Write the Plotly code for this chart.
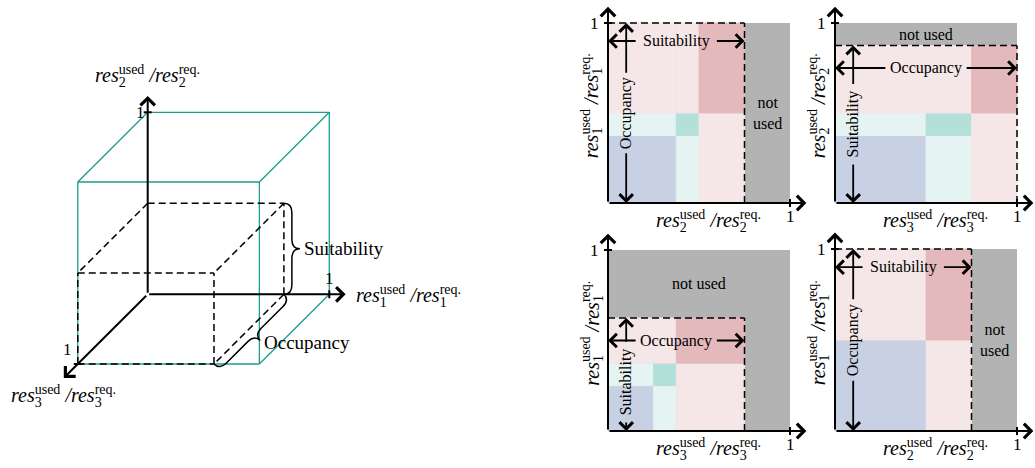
import numpy as np
import plotly.graph_objects as go

W, H = 1035, 468
FONT = "Liberation Serif"

# ---------------- data ----------------
# 3-D sketch: share of each resource used by the request (dashed box)
CUBE_USED = [0.75, 0.5, 1.0]          # res1, res2, res3
AXIS_ONE = 1.0                         # tick value on every axis

# 2-D projections: block edges along x and y, cell categories
P1_X_EDGES = [0, 0.375, 0.5, 0.75]
P1_Y_EDGES = [0, 0.375, 0.5, 1.0]
P2_X_EDGES = [0, 0.5, 0.75, 1.0]
P2_Y_EDGES = [0, 0.375, 0.5, 0.875]
P3_X_EDGES = [0, 0.25, 0.375, 0.75]
P3_Y_EDGES = [0, 0.25, 0.375, 0.625]
P4_X_EDGES = [0, 0.5, 0.75]
P4_Y_EDGES = [0, 0.5, 1.0]

CELLS_3 = [["B", "LT", "LP"],
           ["LT", "T", "LP"],
           ["LP", "LP", "R"]]
CELLS_2 = [["B", "LP"],
           ["LP", "R"]]

P_X_RES = [2, 3, 3, 2]
P_Y_RES = [1, 2, 1, 1]
H_LABELS = ["Suitability", "Occupancy", "Occupancy", "Suitability"]
V_LABELS = ["Occupancy", "Suitability", "Suitability", "Occupancy"]
NOT_USED = "not used"

# ---------------- styles / layout ----------------
COLORS = {"B": "#c8d0e3", "T": "#b3e1da", "LT": "#e5f4f2",
          "R": "#e3b9bc", "LP": "#f5e6e7", "GRAY": "#b3b3b3"}
CUBE_COLOR = "#1a9e8c"

PANELS = [
    dict(x=P1_X_EDGES, y=P1_Y_EDGES, cells=CELLS_3, ox=608, oy=203, sx=182, sy=180,
         xpx=(556, 822), ypx=(0, 234), h_y=0.9, v_x=0.1, v_c=None, nu_lines=True, nu_top=False),
    dict(x=P2_X_EDGES, y=P2_Y_EDGES, cells=CELLS_3, ox=835, oy=203, sx=182, sy=180,
         xpx=(806, 1035), ypx=(0, 234), h_y=0.75, v_x=0.1, v_c=None, nu_lines=False, nu_top=True),
    dict(x=P3_X_EDGES, y=P3_Y_EDGES, cells=CELLS_3, ox=608, oy=431, sx=182, sy=181,
         xpx=(556, 822), ypx=(234, 468), h_y=0.5, v_x=0.1, v_c=0.27, nu_lines=False, nu_top=True),
    dict(x=P4_X_EDGES, y=P4_Y_EDGES, cells=CELLS_2, ox=835, oy=431, sx=182, sy=182,
         xpx=(806, 1035), ypx=(234, 468), h_y=0.9, v_x=0.1, v_c=None, nu_lines=True, nu_top=False),
]
TIP = 1.09
GAP = 0.215
LAB_SIZE = 20

# 3-D oblique projection
O3 = (147.7, 294.3)
S3 = (181.6, 182.0)
K3 = (-0.385, -0.383)


def proj(v):
    return (v[0] + K3[0] * v[2], v[1] + K3[1] * v[2])


def res_label(i):
    # subscript stacked under superscript: negative letter spacing on the subscript
    sub = f"<sub><span style='letter-spacing:-0.5em'>{i}</span></sub>"
    return f"<i>res</i>{sub}<sup>used</sup><i> /res</i>{sub}<sup>req.</sup>"


def x_axis_spec(o, s, lo, hi):
    return dict(range=[(lo - o) / s, (hi - o) / s], domain=[lo / W, hi / W])


def y_axis_spec(o, s, top, bot):
    return dict(range=[(o - bot) / s, (o - top) / s], domain=[1 - bot / H, 1 - top / H])


fig = go.Figure()
layout_axes = {}
shapes = []
annotations = []


def arrow(xr, yr, p0, p1, width=1.8, size=1.45):
    return dict(x=p1[0], y=p1[1], ax=p0[0], ay=p0[1], xref=xr, yref=yr,
                axref=xr, ayref=yr, text="", showarrow=True, arrowhead=4,
                arrowsize=size, arrowwidth=width, arrowcolor="black",
                arrowside="end")


def line(xr, yr, p0, p1, color="black", width=1.5, dash="solid"):
    return dict(type="line", xref=xr, yref=yr, x0=p0[0], y0=p0[1], x1=p1[0], y1=p1[1],
                line=dict(color=color, width=width, dash=dash))


def text(xr, yr, x, y, t, size=16, **kw):
    d = dict(x=x, y=y, xref=xr, yref=yr, text=t, showarrow=False,
             font=dict(family=FONT, size=size, color="black"))
    d.update(kw)
    return d


# ---------------- 3-D sketch (axis x / y) ----------------
xs = x_axis_spec(O3[0], S3[0], 0, 520)
ys = y_axis_spec(O3[1], S3[1], 0, H)
layout_axes["xaxis"] = dict(xs, visible=False, fixedrange=True)
layout_axes["yaxis"] = dict(ys, visible=False, fixedrange=True, anchor="x")
fig.add_trace(go.Scatter(x=[None], y=[None], xaxis="x", yaxis="y", showlegend=False,
                         hoverinfo="skip"))


def box_edges(dims):
    corners = [(i, j, k) for i in (0, 1) for j in (0, 1) for k in (0, 1)]
    edges = []
    for a in corners:
        for b in corners:
            if a < b and sum(abs(np.subtract(a, b))) == 1 and a != (0, 0, 0):
                edges.append((tuple(np.multiply(a, dims)), tuple(np.multiply(b, dims))))
    return edges


for a, b in box_edges([AXIS_ONE] * 3):
    shapes.append(line("x", "y", proj(a), proj(b), color=CUBE_COLOR, width=1.3))
for a, b in box_edges(CUBE_USED):
    shapes.append(line("x", "y", proj(a), proj(b), width=1.5, dash="7px,4px"))

# axes of the 3-D sketch
ax_tips = [(TIP, 0, 0), (0, TIP, 0), (0, 0, 1.2)]
for tip in ax_tips:
    annotations.append(arrow("x", "y", proj((0, 0, 0)), proj(tip), width=2, size=1.4))
t = 0.022
shapes.append(line("x", "y", (AXIS_ONE, -t), (AXIS_ONE, t), width=2))
shapes.append(line("x", "y", (-t, AXIS_ONE), (t, AXIS_ONE), width=2))
pz = proj((0, 0, AXIS_ONE))
shapes.append(line("x", "y", (pz[0] - t, pz[1]), (pz[0] + t, pz[1]), width=2))

annotations.append(text("x", "y", AXIS_ONE, 0, "1", 17, yanchor="bottom", yshift=4))
annotations.append(text("x", "y", 0, AXIS_ONE, "1", 17, xanchor="right", xshift=-1))
annotations.append(text("x", "y", pz[0], pz[1], "1", 17, xanchor="right", yanchor="bottom",
                        xshift=-4, yshift=3))
p = proj(ax_tips[0])
annotations.append(text("x", "y", p[0], p[1], res_label(1), LAB_SIZE, xanchor="left", xshift=8))
p = proj(ax_tips[1])
annotations.append(text("x", "y", p[0], p[1], res_label(2), LAB_SIZE, yanchor="bottom", yshift=7))
p = proj(ax_tips[2])
annotations.append(text("x", "y", p[0], p[1], res_label(3), LAB_SIZE, yanchor="top", yshift=-2))


def brace(p0, p1, w):
    p0 = np.array(p0, float)
    p1 = np.array(p1, float)
    d = p1 - p0
    L = np.hypot(*d)
    tv = d / L
    n = np.array([-tv[1], tv[0]])
    r = w * 0.6

    def pt(s, h):
        q = p0 + s * tv + h * n
        return f"{q[0]:.5f},{q[1]:.5f}"
    path = (f"M{pt(0, 0)} Q{pt(0, w / 2)} {pt(r, w / 2)} L{pt(L / 2 - r, w / 2)} "
            f"Q{pt(L / 2, w / 2)} {pt(L / 2, w)} Q{pt(L / 2, w / 2)} {pt(L / 2 + r, w / 2)} "
            f"L{pt(L - r, w / 2)} Q{pt(L, w / 2)} {pt(L, 0)}")
    tipq = p0 + (L / 2) * tv + w * n
    return path, tipq


a1, a2, a3 = CUBE_USED
bw = 0.088
path, tip_s = brace(proj((a1, a2, 0)), proj((a1, 0, 0)), bw)
shapes.append(dict(type="path", xref="x", yref="y", path=path, line=dict(color="black", width=1.5)))
path, tip_o = brace(proj((a1, 0, 0)), proj((a1, 0, a3)), bw)
shapes.append(dict(type="path", xref="x", yref="y", path=path, line=dict(color="black", width=1.5)))
annotations.append(text("x", "y", tip_s[0], tip_s[1], "Suitability", 19, xanchor="left", xshift=2))
annotations.append(text("x", "y", tip_o[0], tip_o[1], "Occupancy", 19, xanchor="left", xshift=2,
                        yshift=-2))

# ---------------- 2-D panels ----------------
for i, pn in enumerate(PANELS):
    k = i + 2
    xr, yr = f"x{k}", f"y{k}"
    layout_axes[f"xaxis{k}"] = dict(x_axis_spec(pn["ox"], pn["sx"], *pn["xpx"]),
                                    visible=False, fixedrange=True, anchor=yr)
    layout_axes[f"yaxis{k}"] = dict(y_axis_spec(pn["oy"], pn["sy"], *pn["ypx"]),
                                    visible=False, fixedrange=True, anchor=xr)
    fig.add_trace(go.Scatter(x=[None], y=[None], xaxis=xr, yaxis=yr, showlegend=False,
                             hoverinfo="skip"))
    xe, ye = pn["x"], pn["y"]
    xm, ym = xe[-1], ye[-1]
    # not-used background
    shapes.append(dict(type="rect", xref=xr, yref=yr, x0=0, x1=AXIS_ONE, y0=0, y1=AXIS_ONE,
                       fillcolor=COLORS["GRAY"], line=dict(width=0), layer="below"))
    for r, row in enumerate(pn["cells"]):
        for c, cat in enumerate(row):
            shapes.append(dict(type="rect", xref=xr, yref=yr, x0=xe[c], x1=xe[c + 1],
                               y0=ye[r], y1=ye[r + 1], fillcolor=COLORS[cat],
                               line=dict(width=0.8, color=COLORS[cat]), layer="below"))
    # dashed boundary of the used part
    shapes.append(line(xr, yr, (0, ym), (xm, ym), width=1.5, dash="7px,4px"))
    shapes.append(line(xr, yr, (xm, 0), (xm, ym), width=1.5, dash="7px,4px"))
    # axes
    annotations.append(arrow(xr, yr, (0, 0), (TIP, 0), width=2, size=1.4))
    annotations.append(arrow(xr, yr, (0, 0), (0, TIP), width=2, size=1.4))
    shapes.append(line(xr, yr, (AXIS_ONE, -t), (AXIS_ONE, t), width=2))
    shapes.append(line(xr, yr, (-t, AXIS_ONE), (t, AXIS_ONE), width=2))
    annotations.append(text(xr, yr, AXIS_ONE, 0, "1", 17, yanchor="top", yshift=-2))
    annotations.append(text(xr, yr, 0, AXIS_ONE, "1", 17, xanchor="right", xshift=-7))
    annotations.append(text(xr, yr, 0.55, 0, res_label(P_X_RES[i]), LAB_SIZE,
                            yanchor="top", yshift=-2))
    annotations.append(text(xr, yr, 0, 0.54, res_label(P_Y_RES[i]), LAB_SIZE, textangle=-90,
                            xanchor="right", xshift=-3))
    # horizontal double arrow with label
    hy, hc = pn["h_y"], xm / 2
    annotations.append(arrow(xr, yr, (hc - GAP, hy), (0, hy)))
    annotations.append(arrow(xr, yr, (hc + GAP, hy), (xm, hy)))
    annotations.append(text(xr, yr, hc, hy, H_LABELS[i], 16))
    # vertical double arrow with label
    vx = pn["v_x"]
    vc = pn["v_c"] if pn["v_c"] is not None else ym / 2
    annotations.append(arrow(xr, yr, (vx, vc + GAP), (vx, ym)))
    annotations.append(arrow(xr, yr, (vx, vc - GAP), (vx, 0)))
    annotations.append(text(xr, yr, vx, vc, V_LABELS[i], 16, textangle=-90))
    # not used label (centre of the grey region)
    if pn["nu_top"]:
        nx, ny = 0.5, (ym + AXIS_ONE) / 2
    else:
        nx, ny = (xm + AXIS_ONE) / 2, 0.5
    label = NOT_USED.replace(" ", "<br>") if pn["nu_lines"] else NOT_USED
    annotations.append(text(xr, yr, nx, ny, label, 16))

fig.update_layout(
    width=W, height=H, autosize=False,
    margin=dict(l=0, r=0, t=0, b=0),
    paper_bgcolor="white", plot_bgcolor="rgba(0,0,0,0)",
    showlegend=False,
    shapes=shapes, annotations=annotations,
    font=dict(family=FONT, size=16, color="black"),
    **layout_axes,
)
fig.write_html("out.html", config={"displayModeBar": False, "staticPlot": True},
               post_script="document.body.style.margin='0px';")
